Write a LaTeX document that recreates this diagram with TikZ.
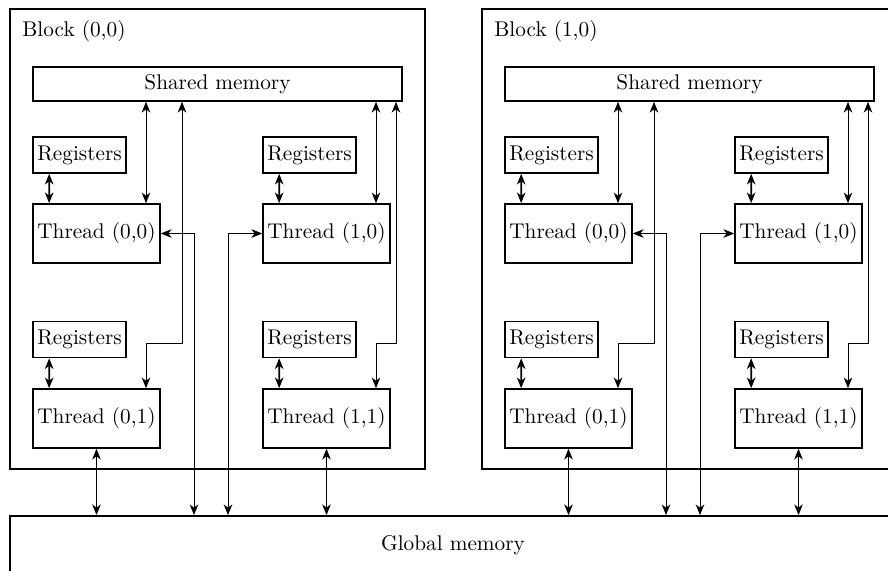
\documentclass[tikz,border=0pt]{standalone}
\usepackage{tikz}
\usetikzlibrary{arrows.meta}
\begin{document}
\begin{tikzpicture}
[x=0.47pt,y=0.47pt,>={Stealth[length=5pt,width=4pt,inset=1.5pt]}]
\tikzset{box/.style={draw,line width=0.8pt,inner sep=0pt},
	reg/.style={box,minimum width=43.7pt,minimum height=16.9pt},
	thr/.style={box,minimum width=59.7pt,minimum height=27.7pt},
	shm/.style={box,minimum width=173.4pt,minimum height=16pt},
	blk/.style={box,minimum width=195pt,minimum height=216.2pt}}
\path [use as bounding box,clip] (0,0) rectangle (888,570);

\node [box,minimum width=416.4pt,minimum height=27.3pt] (gm) at (453,25) {Global memory};

\foreach \dx/\b in {0/0,472/1}{
\node [blk] (blk\b) at (217.5+\dx,331) {};
\node [anchor=north west,inner sep=0pt] (lbl\b) at (22+\dx,550) {Block (\b,0)};
\node [shm] (sm\b) at (217.5+\dx,486) {Shared memory};
\node [reg] (r00-\b) at (79.5+\dx,415) {Registers};
\node [reg] (r10-\b) at (309.5+\dx,415) {Registers};
\node [reg] (r01-\b) at (79.5+\dx,230.5) {Registers};
\node [reg] (r11-\b) at (309.5+\dx,230.5) {Registers};
\node [thr] (t00-\b) at (96.5+\dx,336.5) {Thread (0,0)};
\node [thr] (t10-\b) at (326.5+\dx,336.5) {Thread (1,0)};
\node [thr] (t01-\b) at (96.5+\dx,151.5) {Thread (0,1)};
\node [thr] (t11-\b) at (326.5+\dx,151.5) {Thread (1,1)};

% lanes
\coordinate (ua\b) at (146+\dx,227);
\coordinate (ub\b) at (182+\dx,227);
\coordinate (va\b) at (376+\dx,227);
\coordinate (vb\b) at (396+\dx,227);
\coordinate (ga\b) at (194+\dx,0);
\coordinate (gb\b) at (228+\dx,0);

\foreach \r/\t in {r00/t00,r10/t10,r01/t01,r11/t11}
	\draw [<->,line width=0.8pt] ([xshift=8pt]\r-\b.south west) -- ([xshift=8pt]\t-\b.north west);

\draw [<->] (sm\b.south -| ua\b) -- (t00-\b.north -| ua\b);
\draw [<->] (sm\b.south -| va\b) -- (t10-\b.north -| va\b);
\draw [<->] (sm\b.south -| ub\b) -- (ub\b) -- (ua\b) -- (t01-\b.north -| ua\b);
\draw [<->] (sm\b.south -| vb\b) -- (vb\b) -- (va\b) -- (t11-\b.north -| va\b);
\draw [<->] (t00-\b.east) -| (gm.north -| ga\b);
\draw [<->] (t10-\b.west) -| (gm.north -| gb\b);
\draw [<->] (t01-\b.south) -- (gm.north -| t01-\b.south);
\draw [<->] (t11-\b.south) -- (gm.north -| t11-\b.south);
}

\end{tikzpicture}
\end{document}
